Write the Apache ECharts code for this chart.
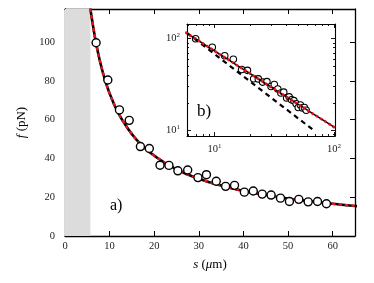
<!DOCTYPE html>
<html><head><meta charset="utf-8">
<script src="https://cdn.jsdelivr.net/npm/echarts@6/dist/echarts.min.js"></script>
<style>html,body{margin:0;padding:0;background:#fff}#c{width:374px;height:283px}</style>
</head><body><div id="c"></div>
<script>
// measured data points
const sData = [6.97,9.6,12.2,14.4,16.9,18.9,21.3,23.3,25.3,27.5,29.8,31.7,33.9,36.0,38.0,40.2,42.2,44.2,46.2,48.3,50.3,52.4,54.5,56.6,58.6];
const fData = [99.6,80.4,65.0,59.6,46.1,45.1,36.5,36.4,33.6,34.0,30.1,31.6,28.2,25.6,26.1,22.6,23.2,21.6,21.1,19.5,17.8,18.9,17.6,17.8,16.6];
// fitted curve
const fitS = [5.7,6,7,8,9,10,11,12,13,15,17,20,25,30,35,40,45,50,55,60,65,80,102];
const fitF = [117.2,112.4,98.9,88.5,80.2,73.5,67.9,63.2,59.2,52.5,47.3,41.4,34.3,29.5,26.0,23.2,21.1,19.3,17.9,16.6,15.5,13.1,10.7];
// slope -1 reference line in inset
const refS = [5.9,70];
const refF = [115,9.7];
// shaded region end
const shadeEnd = 5.7;
// tick values
const mainXTicks = [0,10,20,30,40,50,60];
const mainYTicks = [0,20,40,60,80,100];
const logMajor = [10,100];
const insetXMinor = [6,7,8,9,20,30,40,50,60,70,80,90];
const insetYMinor = [9,20,30,40,50,60,70,80,90];

const FF = 'Liberation Serif';
const zip = (a,b) => a.map((v,i)=>[v,b[i]]);

function mainAxis(gi, pos, ticks, min, max, labels, extra){
  return Object.assign({
    gridIndex: gi, type:'value', position: pos, min, max,
    axisLine:{show:true, onZero:false, lineStyle:{color:'#000',width:1.3}},
    axisTick:{show:true, inside:true, length:5, customValues:ticks, lineStyle:{color:'#000',width:1}},
    axisLabel:{show:labels, customValues:ticks, color:'#222', fontFamily:FF, fontSize:10.5, margin: pos==='bottom'?5:10},
    splitLine:{show:false}
  }, extra||{});
}
const supFmt = v => '{b|10}{s|' + Math.round(Math.log10(v)) + '}';
const supRich = {b:{fontFamily:FF,fontSize:10.5,color:'#222'}, s:{fontFamily:FF,fontSize:7,color:'#222',padding:[0,0,6,0]}};
function logAxis(pos, min, max, ticks, len, line, labels){
  return {
    gridIndex:1, type:'log', logBase:10, position:pos, min, max,
    axisLine:{show:line, onZero:false, lineStyle:{color:'#000',width:1.1}},
    axisTick:{show:true, inside:true, length:len, customValues:ticks, lineStyle:{color:'#000',width:0.9}},
    axisLabel:{show:labels, customValues:ticks, formatter:supFmt, rich:supRich, margin:7},
    splitLine:{show:false}, minorTick:{show:false}
  };
}

const chart = echarts.init(document.getElementById('c'), null, {renderer:'canvas'});
const nameStyle = {color:'#000', fontFamily:FF, fontSize:13,
  rich:{i:{fontStyle:'italic', fontFamily:FF, fontSize:13, color:'#000'}}};
chart.setOption({
  animation:false,
  backgroundColor:'#fff',
  grid:[
    {left:65, top:9, width:290, height:227, show:false},
    {left:187, top:24, width:148, height:112, show:true, backgroundColor:'#fff', borderWidth:0}
  ],
  xAxis:[
    mainAxis(0,'bottom',mainXTicks,0,65,true,{name:'{i|s} ({i|μ}m)', nameLocation:'middle', nameGap:22, nameTextStyle:nameStyle}),
    mainAxis(0,'top',mainXTicks,0,65,false),
    logAxis('bottom',5.9,102,logMajor,4,true,true),
    logAxis('bottom',5.9,102,insetXMinor,2,false,false),
    logAxis('top',5.9,102,logMajor,4,true,false),
    logAxis('top',5.9,102,insetXMinor,2,false,false)
  ],
  yAxis:[
    mainAxis(0,'left',mainYTicks,0,117,true,{name:'{i|f} (pN)', nameLocation:'middle', nameGap:31, nameRotate:90, nameTextStyle:nameStyle}),
    mainAxis(0,'right',mainYTicks,0,117,false),
    logAxis('left',8.7,144,logMajor,4,true,true),
    logAxis('left',8.7,144,insetYMinor,2,false,false),
    logAxis('right',8.7,144,logMajor,4,true,false),
    logAxis('right',8.7,144,insetYMinor,2,false,false)
  ],
  series:[
    {type:'line', xAxisIndex:0, yAxisIndex:0, data:zip(fitS,fitF), smooth:true, symbol:'none', z:2,
     lineStyle:{color:'#000', width:2.6},
     markArea:{silent:true, itemStyle:{color:'#dcdcdc'}, data:[[{xAxis:0},{xAxis:shadeEnd}]]}},
    {type:'line', xAxisIndex:0, yAxisIndex:0, data:zip(fitS,fitF), smooth:true, symbol:'none', z:3,
     lineStyle:{color:'#e8141b', width:2.4, type:[3.5,3]}},
    {type:'scatter', xAxisIndex:0, yAxisIndex:0, data:zip(sData,fData), symbol:'circle', symbolSize:8, z:4,
     itemStyle:{color:'#fff', opacity:1, borderColor:'#000', borderWidth:1.4}},
    {type:'scatter', xAxisIndex:2, yAxisIndex:2, data:zip(sData,fData), symbol:'circle', symbolSize:6.5, z:3,
     itemStyle:{color:'#fff', opacity:1, borderColor:'#000', borderWidth:1.1}},
    {type:'line', xAxisIndex:2, yAxisIndex:2, data:zip(refS,refF), symbol:'none', z:4,
     lineStyle:{color:'#000', width:2.2, type:[5,4]}},
    {type:'line', xAxisIndex:2, yAxisIndex:2, data:zip(fitS,fitF), symbol:'none', z:5,
     lineStyle:{color:'#000', width:1.5}},
    {type:'line', xAxisIndex:2, yAxisIndex:2, data:zip(fitS,fitF), symbol:'none', z:6,
     lineStyle:{color:'#e8141b', width:2.6, type:[2.5,2.5]}}
  ],
  graphic:[
    {type:'text', left:110, top:198, style:{text:'a)', fontFamily:FF, fontSize:16, fill:'#000'}},
    {type:'text', left:197, top:103, style:{text:'b)', fontFamily:FF, fontSize:17, fill:'#000'}, z:100}
  ]
});
</script></body></html>
